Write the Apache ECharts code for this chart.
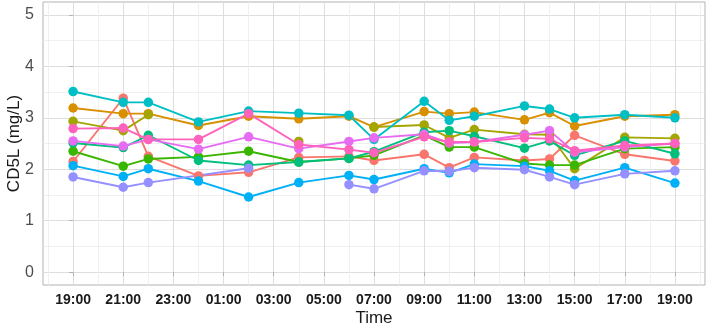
<!DOCTYPE html>
<html>
<head>
<meta charset="utf-8">
<script src="https://cdn.jsdelivr.net/npm/echarts@6/dist/echarts.min.js"></script>
<style>
  html, body { margin: 0; padding: 0; background: #fff; }
  #chart { width: 709px; height: 328px; }
</style>
</head>
<body>
<div id="chart"></div>
<script>
// hours after 19:00
var hours = [0, 2, 3, 5, 7, 9, 11, 12, 14, 15, 16, 18, 19, 20, 22, 24]
var majorHours = [0, 2, 4, 6, 8, 10, 12, 14, 16, 18, 20, 22, 24]
var minorHours = [-1, 1, 3, 5, 7, 9, 11, 13, 15, 17, 19, 21, 23, 25]
var yMajor = [0, 1, 2, 3, 4, 5]
var yMinor = [0.5, 1.5, 2.5, 3.5, 4.5]

// null = gap in the line, undefined = no measurement (line passes by)
var s1 = [2.15, 3.38, 2.25, 1.87, 1.94, 2.23, 2.25, 2.17, 2.29, 2.03, 2.23, 2.17, 2.20, 2.66, 2.29, 2.16]
var s2 = [3.19, 3.08, 3.08, 2.85, 3.03, 2.98, 3.03, 2.82, 3.12, 3.08, 3.11, 2.96, 3.10, 2.84, 3.03, 3.06]
var s3 = [2.93, 2.75, 3.06, null, null, 2.54, null, 2.82, 2.86, 2.61, 2.77, 2.68, 2.67, 2.01, 2.62, 2.60]
var s4 = [2.35, 2.06, 2.20, 2.24, 2.35, 2.14, 2.21, 2.27, 2.66, 2.43, 2.43, 2.11, 2.08, 2.08, 2.40, 2.43]
var s5 = [2.51, 2.42, 2.66, 2.17, 2.08, 2.14, 2.21, 2.34, 2.72, 2.75, 2.64, 2.41, 2.55, 2.27, 2.55, 2.30]
var s6 = [3.51, 3.30, 3.30, 2.92, 3.13, 3.09, 3.05, 2.58, 3.32, 2.95, 3.03, 3.23, 3.17, 3.00, 3.06, 3.00]
var s7 = [2.07, 1.86, 2.01, 1.77, 1.46, 1.74, 1.88, 1.80, 2.01, 1.93, 2.10, 2.06, 1.97, 1.78, 2.03, 1.73]
var s8 = [1.85, 1.65, 1.74, undefined, 2.02, null, 1.70, 1.62, 1.97, 1.96, 2.03, 1.99, 1.85, 1.70, 1.91, 1.97]
var s9 = [2.55, 2.45, 2.58, 2.39, 2.63, 2.40, 2.54, 2.61, 2.68, 2.51, 2.53, 2.67, 2.75, 2.33, 2.43, 2.50]
var s10 = [2.79, 2.80, 2.58, 2.58, 3.08, 2.48, 2.38, 2.32, 2.63, 2.53, 2.53, 2.61, 2.59, 2.36, 2.46, 2.50]

var allSeries = [s1, s2, s3, s4, s5, s6, s7, s8, s9, s10]
var colors = ['#F8766D', '#D89000', '#A3A500', '#39B600', '#00BF7D',
  '#00BFC4', '#00B0F6', '#9590FF', '#E76BF3', '#FF62BC']

function toPairs (vals) {
  var out = []
  hours.forEach(function (h, i) {
    if (vals[i] === undefined) return
    out.push([h, vals[i] === null ? '-' : vals[i]])
  })
  return out
}

function hourLabel (v) {
  var h = (19 + Math.round(v)) % 24
  return (h < 10 ? '0' : '') + h + ':00'
}

var series = []
allSeries.forEach(function (vals, i) {
  series.push({
    type: 'line',
    data: toPairs(vals),
    showSymbol: false,
    lineStyle: { color: colors[i], width: 1.9 },
    itemStyle: { color: colors[i] },
    z: 2
  })
})
// points go on top of all lines, as in the original
allSeries.forEach(function (vals, i) {
  series.push({
    type: 'scatter',
    data: toPairs(vals).filter(function (p) { return p[1] !== '-' }),
    symbolSize: 9.5,
    itemStyle: { color: colors[i], opacity: 1 },
    z: 3
  })
})

var chart = echarts.init(document.getElementById('chart'))
chart.setOption({
  animation: false,
  grid: {
    left: 43, right: 4, top: 2, bottom: 43,
    outerBoundsMode: 'none',
    containLabel: false,
    show: true, borderColor: '#b3b3b3', borderWidth: 1
  },
  xAxis: [{
    type: 'value',
    min: -1.2,
    max: 25.2,
    axisLine: { show: false },
    axisTick: { show: true, length: 4, customValues: majorHours, lineStyle: { color: '#b3b3b3' } },
    axisLabel: {
      customValues: majorHours,
      formatter: hourLabel,
      margin: 8,
      color: '#1a1a1a',
      fontWeight: 'bold',
      fontSize: 14,
      fontFamily: 'Liberation Sans'
    },
    splitLine: { show: true, lineStyle: { color: '#dedede', width: 1 } },
    name: 'Time',
    nameLocation: 'middle',
    nameGap: 25,
    nameMoveOverlap: false,
    nameTextStyle: { color: '#1a1a1a', fontSize: 17, fontFamily: 'Liberation Sans' }
  }, {
    type: 'value',
    min: -1.2,
    max: 25.2,
    position: 'bottom',
    axisLine: { show: false },
    axisTick: { show: false, customValues: minorHours },
    axisLabel: { show: false },
    splitLine: { show: true, lineStyle: { color: '#ececec', width: 0.8 } }
  }],
  yAxis: [{
    type: 'value',
    min: -0.25,
    max: 5.25,
    axisLine: { show: false },
    axisTick: { show: true, length: 4, customValues: yMajor, lineStyle: { color: '#b3b3b3' } },
    axisLabel: {
      customValues: yMajor,
      margin: 9,
      color: '#4d4d4d',
      fontSize: 16,
      fontFamily: 'Liberation Sans'
    },
    splitLine: { show: true, lineStyle: { color: '#dedede', width: 1 } },
    name: 'CD5L (mg/L)',
    nameLocation: 'middle',
    nameRotate: 90,
    nameGap: 20,
    nameMoveOverlap: false,
    nameTextStyle: { color: '#1a1a1a', fontSize: 17, fontFamily: 'Liberation Sans' }
  }, {
    type: 'value',
    min: -0.25,
    max: 5.25,
    position: 'left',
    axisLine: { show: false },
    axisTick: { show: false, customValues: yMinor },
    axisLabel: { show: false },
    splitLine: { show: true, lineStyle: { color: '#ececec', width: 0.8 } }
  }],
  series: series
})
</script>
</body>
</html>
